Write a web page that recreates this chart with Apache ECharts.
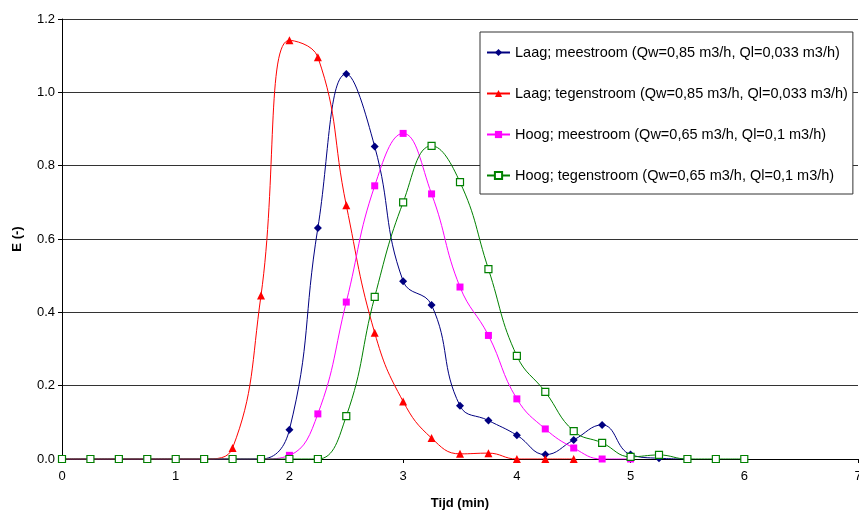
<!DOCTYPE html>
<html>
<head>
<meta charset="utf-8">
<script src="https://cdn.jsdelivr.net/npm/echarts@6/dist/echarts.min.js"></script>
<style>
  html, body { margin: 0; padding: 0; background: #fff; }
  #chart { width: 859px; height: 512px; }
</style>
</head>
<body>
<div id="chart"></div>
<script>
// tijd (min) van de meetpunten
const tijd = [0, 0.25, 0.5, 0.75, 1, 1.25, 1.5, 1.75, 2, 2.25, 2.5, 2.75, 3, 3.25, 3.5, 3.75, 4, 4.25, 4.5, 4.75, 5, 5.25, 5.5, 5.75, 6]

const laagMee = [0, 0, 0, 0, 0, 0, 0, 0, 0.08, 0.63, 1.05, 0.852, 0.485, 0.42, 0.145, 0.105, 0.065, 0.012, 0.052, 0.093, 0.012, 0.002, 0]
const laagTegen = [0, 0, 0, 0, 0, 0, 0.03, 0.446, 1.142, 1.096, 0.692, 0.344, 0.157, 0.057, 0.014, 0.016, 0, 0, 0]
const hoogMee = [0, 0, 0, 0, 0, 0, 0, 0, 0.01, 0.123, 0.428, 0.745, 0.888, 0.723, 0.469, 0.337, 0.164, 0.082, 0.03, 0, 0]
const hoogTegen = [0, 0, 0, 0, 0, 0, 0, 0, 0, 0, 0.117, 0.442, 0.70, 0.854, 0.755, 0.518, 0.281, 0.183, 0.076, 0.044, 0.006, 0.011, 0, 0, 0]

const namen = [
  'Laag; meestroom (Qw=0,85 m3/h, Ql=0,033 m3/h)',
  'Laag; tegenstroom (Qw=0,85 m3/h, Ql=0,033 m3/h)',
  'Hoog; meestroom (Qw=0,65 m3/h, Ql=0,1 m3/h)',
  'Hoog; tegenstroom (Qw=0,65 m3/h, Ql=0,1 m3/h)'
]

const pairs = vals => vals.map((v, i) => [tijd[i], v])

const font = 'Arial, "Liberation Sans", sans-serif'

const mkSeries = (name, vals, color, symbol, size, fill) => ({
  name: name,
  type: 'line',
  data: pairs(vals),
  smooth: 0.45,
  symbol: symbol,
  symbolSize: size,
  lineStyle: { color: color, width: 1 },
  itemStyle: { color: fill || color, borderColor: color, borderWidth: fill ? 1.2 : 0 },
  emphasis: { disabled: true }
})

let chart = echarts.init(document.getElementById('chart'), null, { renderer: 'canvas' })
chart.setOption({
  animation: false,
  backgroundColor: '#fff',
  textStyle: { fontFamily: font },
  grid: { left: 62, right: 1, top: 19, bottom: 53, outerBoundsMode: 'none' },
  legend: {
    orient: 'vertical',
    left: 480,
    top: 32,
    padding: [12, 5, 10, 6],
    itemGap: 24,
    itemWidth: 23,
    itemHeight: 9,
    backgroundColor: '#fff',
    borderColor: '#333',
    borderWidth: 1,
    borderRadius: 0,
    textStyle: { fontSize: 14.5, lineHeight: 17, color: '#000', fontFamily: font },
    data: namen
  },
  xAxis: {
    type: 'value',
    min: 0,
    max: 7,
    interval: 1,
    name: 'Tijd (min)',
    nameLocation: 'middle',
    nameGap: 38,
    nameTextStyle: { fontWeight: 'bold', fontSize: 13, color: '#000' },
    axisLine: { lineStyle: { color: '#000', width: 1 } },
    axisTick: { show: true, length: 4, lineStyle: { color: '#000' } },
    axisLabel: { color: '#000', fontSize: 13, margin: 11 },
    splitLine: { show: false }
  },
  yAxis: {
    type: 'value',
    min: 0,
    max: 1.2,
    interval: 0.2,
    name: 'E (-)',
    nameLocation: 'middle',
    nameGap: 38,
    nameTextStyle: { fontWeight: 'bold', fontSize: 13, color: '#000' },
    axisLine: { show: true, lineStyle: { color: '#000', width: 1 } },
    axisTick: { show: true, length: 4, lineStyle: { color: '#000' } },
    axisLabel: { color: '#000', fontSize: 13, margin: 7, formatter: v => v.toFixed(1) },
    splitLine: { show: true, lineStyle: { color: '#333', width: 1 } }
  },
  series: [
    mkSeries(namen[0], laagMee, '#000080', 'diamond', 8),
    mkSeries(namen[1], laagTegen, '#ff0000', 'triangle', 8),
    mkSeries(namen[2], hoogMee, '#ff00ff', 'rect', 7),
    mkSeries(namen[3], hoogTegen, '#008000', 'rect', 7, '#fff')
  ]
})
</script>
</body>
</html>
